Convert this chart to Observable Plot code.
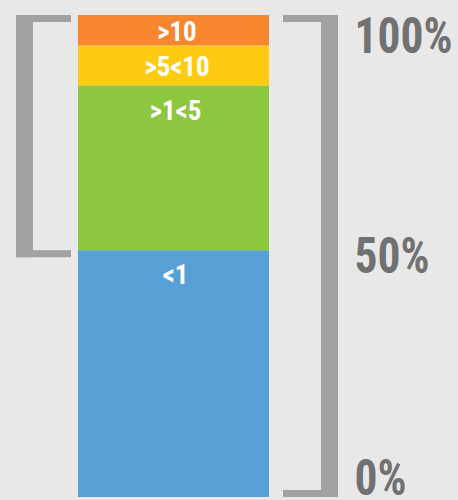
<!DOCTYPE html>
<html>
<head>
<meta charset="utf-8">
<script src="https://cdn.jsdelivr.net/npm/d3@7"></script>
<script src="https://cdn.jsdelivr.net/npm/@observablehq/plot@0.6"></script>
<style>
  html, body { margin: 0; padding: 0; background: #e8e8e8; }
  #chart svg { display: block; }
</style>
</head>
<body>
<div id="chart"></div>
<script>
// Data (bottom to top)
const bands = ["<1", ">1<5", ">5<10", ">10"];
const shares = [51.2, 34.2, 8.3, 6.3];
const colors = ["#579fd4", "#8dc63f", "#ffcb11", "#f8862e"];
const tickValues = [0, 50, 100];
const tickLabels = ["0%", "50%", "100%"];

const data = bands.map((b, i) => ({band: b, value: shares[i]}));
const ticks = tickValues.map((v, i) => ({value: v, label: tickLabels[i]}));
const split = shares[0]; // top of "<1" = bottom of left bracket
const total = d3.sum(shares);

const FONT = "'Roboto Condensed', 'Liberation Sans Narrow', 'DejaVu Sans Condensed', 'DejaVu Sans', sans-serif";
const GRAY = "#a1a1a1";
const BAR = [78, 269];
const MID = (BAR[0] + BAR[1]) / 2;

const segText = {fill: "white", fontWeight: "bold", fontSize: 27};
const pctText = {x: 354, y: "value", text: "label", textAnchor: "start", fill: "#717171", fontWeight: "bold", fontSize: 50};

const chart = Plot.plot({
  width: 458,
  height: 500,
  margin: 0,
  style: {background: "#e8e8e8", fontFamily: FONT},
  x: {domain: [0, 458], range: [0, 458], axis: null},
  y: {domain: [0, 100], range: [497, 15], axis: null},
  color: {domain: bands, range: colors},
  marks: [
    // stacked bar
    Plot.rectY(data, {x1: BAR[0], x2: BAR[1], y: "value", fill: "band"}),
    // segment labels: small segments centred, large ones near the top
    Plot.text(data, Plot.stackY({
      x: MID + 3, y: "value", text: d => d.value < 20 ? d.band : null,
      ...segText, lineAnchor: "middle", dy: 1.5
    })),
    Plot.text(data, Plot.stackY2({
      x: MID + 1.5, y: "value", text: d => d.value >= 20 ? d.band : null,
      ...segText, lineAnchor: "top", dy: 14.5
    })),
    // left bracket (spans the part above "<1")
    Plot.rect([{y1: total, y2: split}], {x1: 16, x2: 33, y1: "y1", y2: "y2", fill: GRAY, insetBottom: -7}),
    Plot.rect([total, split], {x1: 16, x2: 71, y1: d => d, y2: d => d, fill: GRAY, insetBottom: -7}),
    // right bracket (spans the whole bar)
    Plot.rect([{y1: 0, y2: total}], {x1: 321, x2: 338, y1: "y1", y2: "y2", fill: GRAY}),
    Plot.rect([total], {x1: 283, x2: 338, y1: d => d, y2: d => d, fill: GRAY, insetBottom: -7}),
    Plot.rect([0], {x1: 283, x2: 338, y1: d => d, y2: d => d, fill: GRAY, insetTop: -7}),
    // percent labels
    Plot.text(ticks, {...pctText, filter: d => d.value === 100, lineAnchor: "top", dy: 2}),
    Plot.text(ticks, {...pctText, filter: d => d.value === 50, lineAnchor: "middle"}),
    Plot.text(ticks, {...pctText, filter: d => d.value === 0, lineAnchor: "bottom", dy: -3})
  ]
});
document.getElementById("chart").appendChild(chart);

// Condense the bold text horizontally to mimic the narrow typeface of the original
function condense(nodes, refText, targetWidth) {
  const ref = nodes.find(n => n.textContent === refText);
  if (!ref) return;
  const f = Math.min(1, targetWidth / ref.getBBox().width);
  nodes.forEach(n => {
    const b = n.getBBox();
    const ta = n.closest("[text-anchor]")?.getAttribute("text-anchor") || "middle";
    const ax = ta === "start" ? b.x : ta === "end" ? b.x + b.width : b.x + b.width / 2;
    const t = n.getAttribute("transform") || "";
    n.setAttribute("transform", `${t} translate(${ax},0) scale(${f},1) translate(${-ax},0)`);
  });
}
const texts = Array.from(chart.querySelectorAll("text"));
condense(texts.filter(n => n.textContent.includes("%")), "100%", 98);
condense(texts.filter(n => bands.includes(n.textContent)), ">5<10", 69);
</script>
</body>
</html>
